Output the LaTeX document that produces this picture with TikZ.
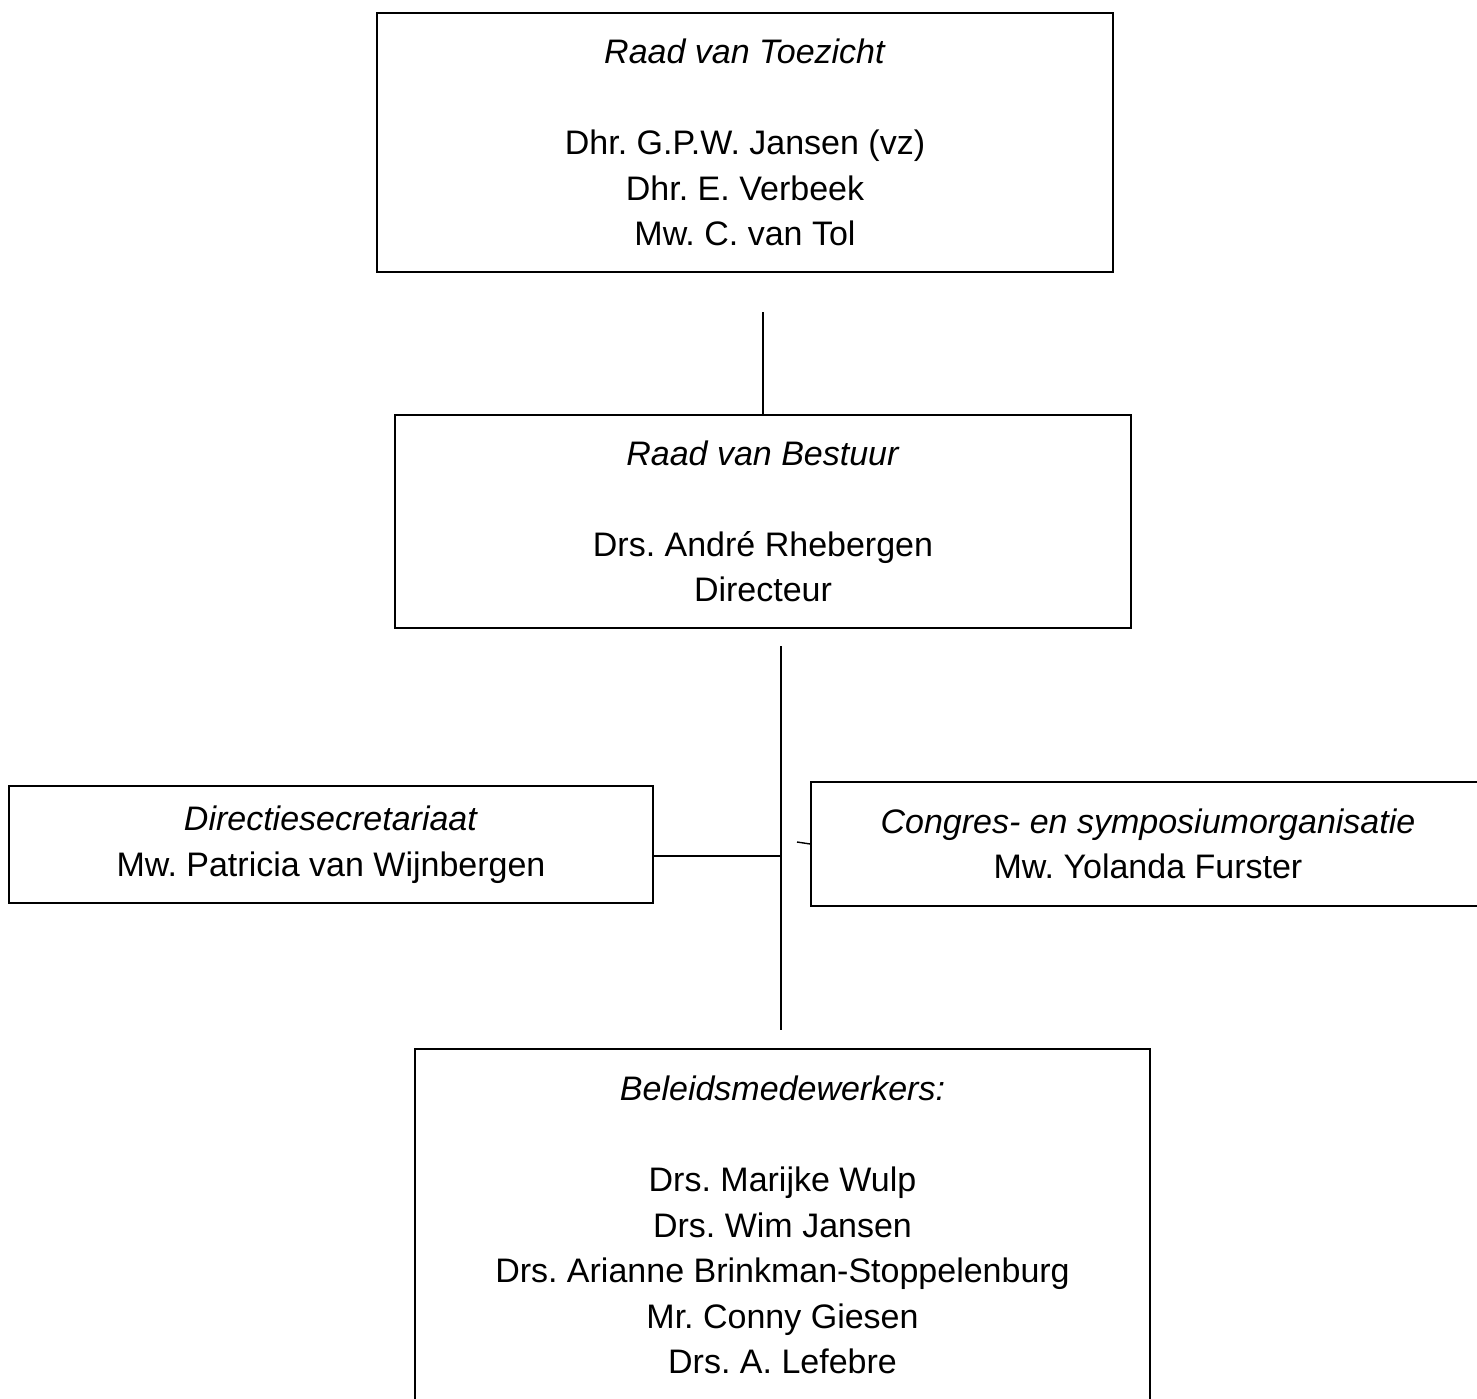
\documentclass[tikz,border=0pt]{standalone}
\usepackage{fontspec}
\setmainfont{Liberation Sans}
\frenchspacing
\tikzset{
  unit/.style={draw, line width=0.7pt, align=center, inner sep=0pt,
    font=\fontsize{17}{22.75}\selectfont},
  link/.style={line width=0.7pt}
}
\begin{document}
\begin{tikzpicture}[x=0.5pt,y=-0.5pt]
  \useasboundingbox (0,0) rectangle (1477,1398);
  % boxes
  \node[unit, minimum width=368pt, minimum height=129.5pt] (toezicht) at (745,142.5)
    {\textit{Raad van Toezicht}\\[22.75pt] Dhr. G.P.W. Jansen (vz)\\ Dhr. E. Verbeek\\ Mw. C. van Tol};
  \node[unit, minimum width=368pt, minimum height=106.5pt] (bestuur) at (763,521.5)
    {\textit{Raad van Bestuur}\\[22.75pt] Drs. Andr\'e Rhebergen\\ Directeur};
  \node[unit, minimum width=322pt, minimum height=58.5pt] (secretariaat) at (331,844.5)
    {\textit{Directiesecretariaat}\\ Mw. Patricia van Wijnbergen};
  \node[unit, minimum width=337pt, minimum height=62pt] (congres) at (1148,844)
    {\textit{Congres- en symposiumorganisatie}\\ Mw. Yolanda Furster};
  \node[unit, minimum width=367.5pt, minimum height=176pt] (beleid) at (782.5,1225)
    {\textit{Beleidsmedewerkers:}\\[22.75pt] Drs. Marijke Wulp\\ Drs. Wim Jansen\\
     Drs. Arianne Brinkman-Stoppelenburg\\ Mr. Conny Giesen\\ Drs. A. Lefebre};
  % loose ends
  \coordinate (toptick) at (763,312);
  \coordinate (midtop) at (781,646);
  \coordinate (midbot) at (781,1030);
  \coordinate (junction) at (781,856);
  \coordinate (ticktail) at (797,842);
  \begin{scope}[link]
    \draw (bestuur.north) -- (toptick);
    \draw (midtop) -- (midbot);
    \draw (secretariaat.east |- junction) -- (junction);
    \draw (congres.west) -- (ticktail);
  \end{scope}
\end{tikzpicture}
\end{document}
